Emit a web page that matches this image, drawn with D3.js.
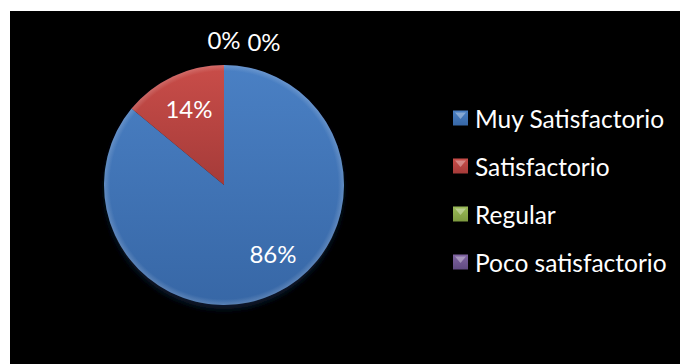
<!DOCTYPE html>
<html>
<head>
<meta charset="utf-8">
<script src="https://cdn.jsdelivr.net/npm/d3@7"></script>
<style>
  html, body { margin: 0; padding: 0; background: #ffffff; }
  svg { display: block; }
</style>
</head>
<body>
<svg id="chart" width="680" height="364"></svg>
<script>
// Survey results: satisfaction level
const categories = ["Muy Satisfactorio", "Satisfactorio", "Regular", "Poco satisfactorio"];
const values = [86, 14, 0, 0];
const labels = ["86%", "14%", "0%", "0%"];
const colorsTop = ["#4a80c4", "#c94d49", "#9bbb59", "#8064a2"];
const colorsBottom = ["#3767a6", "#a53b39", "#7d9a3f", "#5f4a80"];

const svg = d3.select("#chart");
const W = 680, H = 364;
const font = "Lato, 'Open Sans', sans-serif";

// chart area
svg.append("rect").attr("x", 10).attr("y", 11).attr("width", W - 10).attr("height", H - 11).attr("fill", "#000");

const defs = svg.append("defs");
categories.forEach((c, i) => {
  const g = defs.append("linearGradient").attr("id", "grad" + i)
    .attr("x1", 0).attr("y1", 0).attr("x2", 0).attr("y2", 1);
  g.append("stop").attr("offset", "0%").attr("stop-color", colorsTop[i]);
  g.append("stop").attr("offset", "100%").attr("stop-color", colorsBottom[i]);
});
const blur = defs.append("filter").attr("id", "shadow").attr("x", "-20%").attr("y", "-20%").attr("width", "140%").attr("height", "140%");
blur.append("feGaussianBlur").attr("stdDeviation", 3);
const rim = defs.append("radialGradient").attr("id", "rim").attr("cx", "50%").attr("cy", "50%").attr("r", "50%");
rim.append("stop").attr("offset", "95%").attr("stop-color", "#fff").attr("stop-opacity", 0);
rim.append("stop").attr("offset", "100%").attr("stop-color", "#fff").attr("stop-opacity", 0.18);

const cx = 224, cy = 185, r = 120;
const pie = d3.pie().sort(null).value(d => d)(values);
const arc = d3.arc().innerRadius(0).outerRadius(r);

const g = svg.append("g").attr("transform", `translate(${cx},${cy})`);

// soft drop shadow under the pie
g.append("ellipse").attr("cx", 0).attr("cy", 4).attr("rx", r - 1).attr("ry", r)
  .attr("fill", "#0c1a30").attr("filter", "url(#shadow)");

g.selectAll("path.slice").data(pie).join("path")
  .attr("class", "slice")
  .attr("d", arc)
  .attr("fill", (d, i) => `url(#grad${i})`);

g.append("circle").attr("r", r).attr("fill", "url(#rim)");

// value labels: inside the visible slices, above the pie for empty ones
const labelPos = [[273, 253], [189, 108], [224, 39], [264, 41]];
labels.forEach((t, i) => {
  svg.append("text")
    .attr("x", labelPos[i][0]).attr("y", labelPos[i][1])
    .attr("text-anchor", "middle").attr("dominant-baseline", "central")
    .attr("fill", "#fff").attr("font-family", font).attr("font-size", 24)
    .text(t);
});

// legend
const ly = d3.scalePoint().domain(categories).range([118, 262]);
const leg = svg.append("g");
categories.forEach((c, i) => {
  const y = ly(c);
  const s = 15, x = 453;
  leg.append("rect").attr("x", x).attr("y", y - s / 2).attr("width", s).attr("height", s)
    .attr("fill", `url(#grad${i})`);
  // bevel highlight on the top face
  leg.append("path")
    .attr("d", `M${x + 2},${y - s / 2 + 2} L${x + s - 2},${y - s / 2 + 2} L${x + s / 2},${y + 1} Z`)
    .attr("fill", "#fff").attr("opacity", 0.35);
  leg.append("text").attr("x", x + s + 7).attr("y", y)
    .attr("dominant-baseline", "central")
    .attr("fill", "#fff").attr("font-family", font).attr("font-size", 24.5)
    .text(c);
});
</script>
</body>
</html>
